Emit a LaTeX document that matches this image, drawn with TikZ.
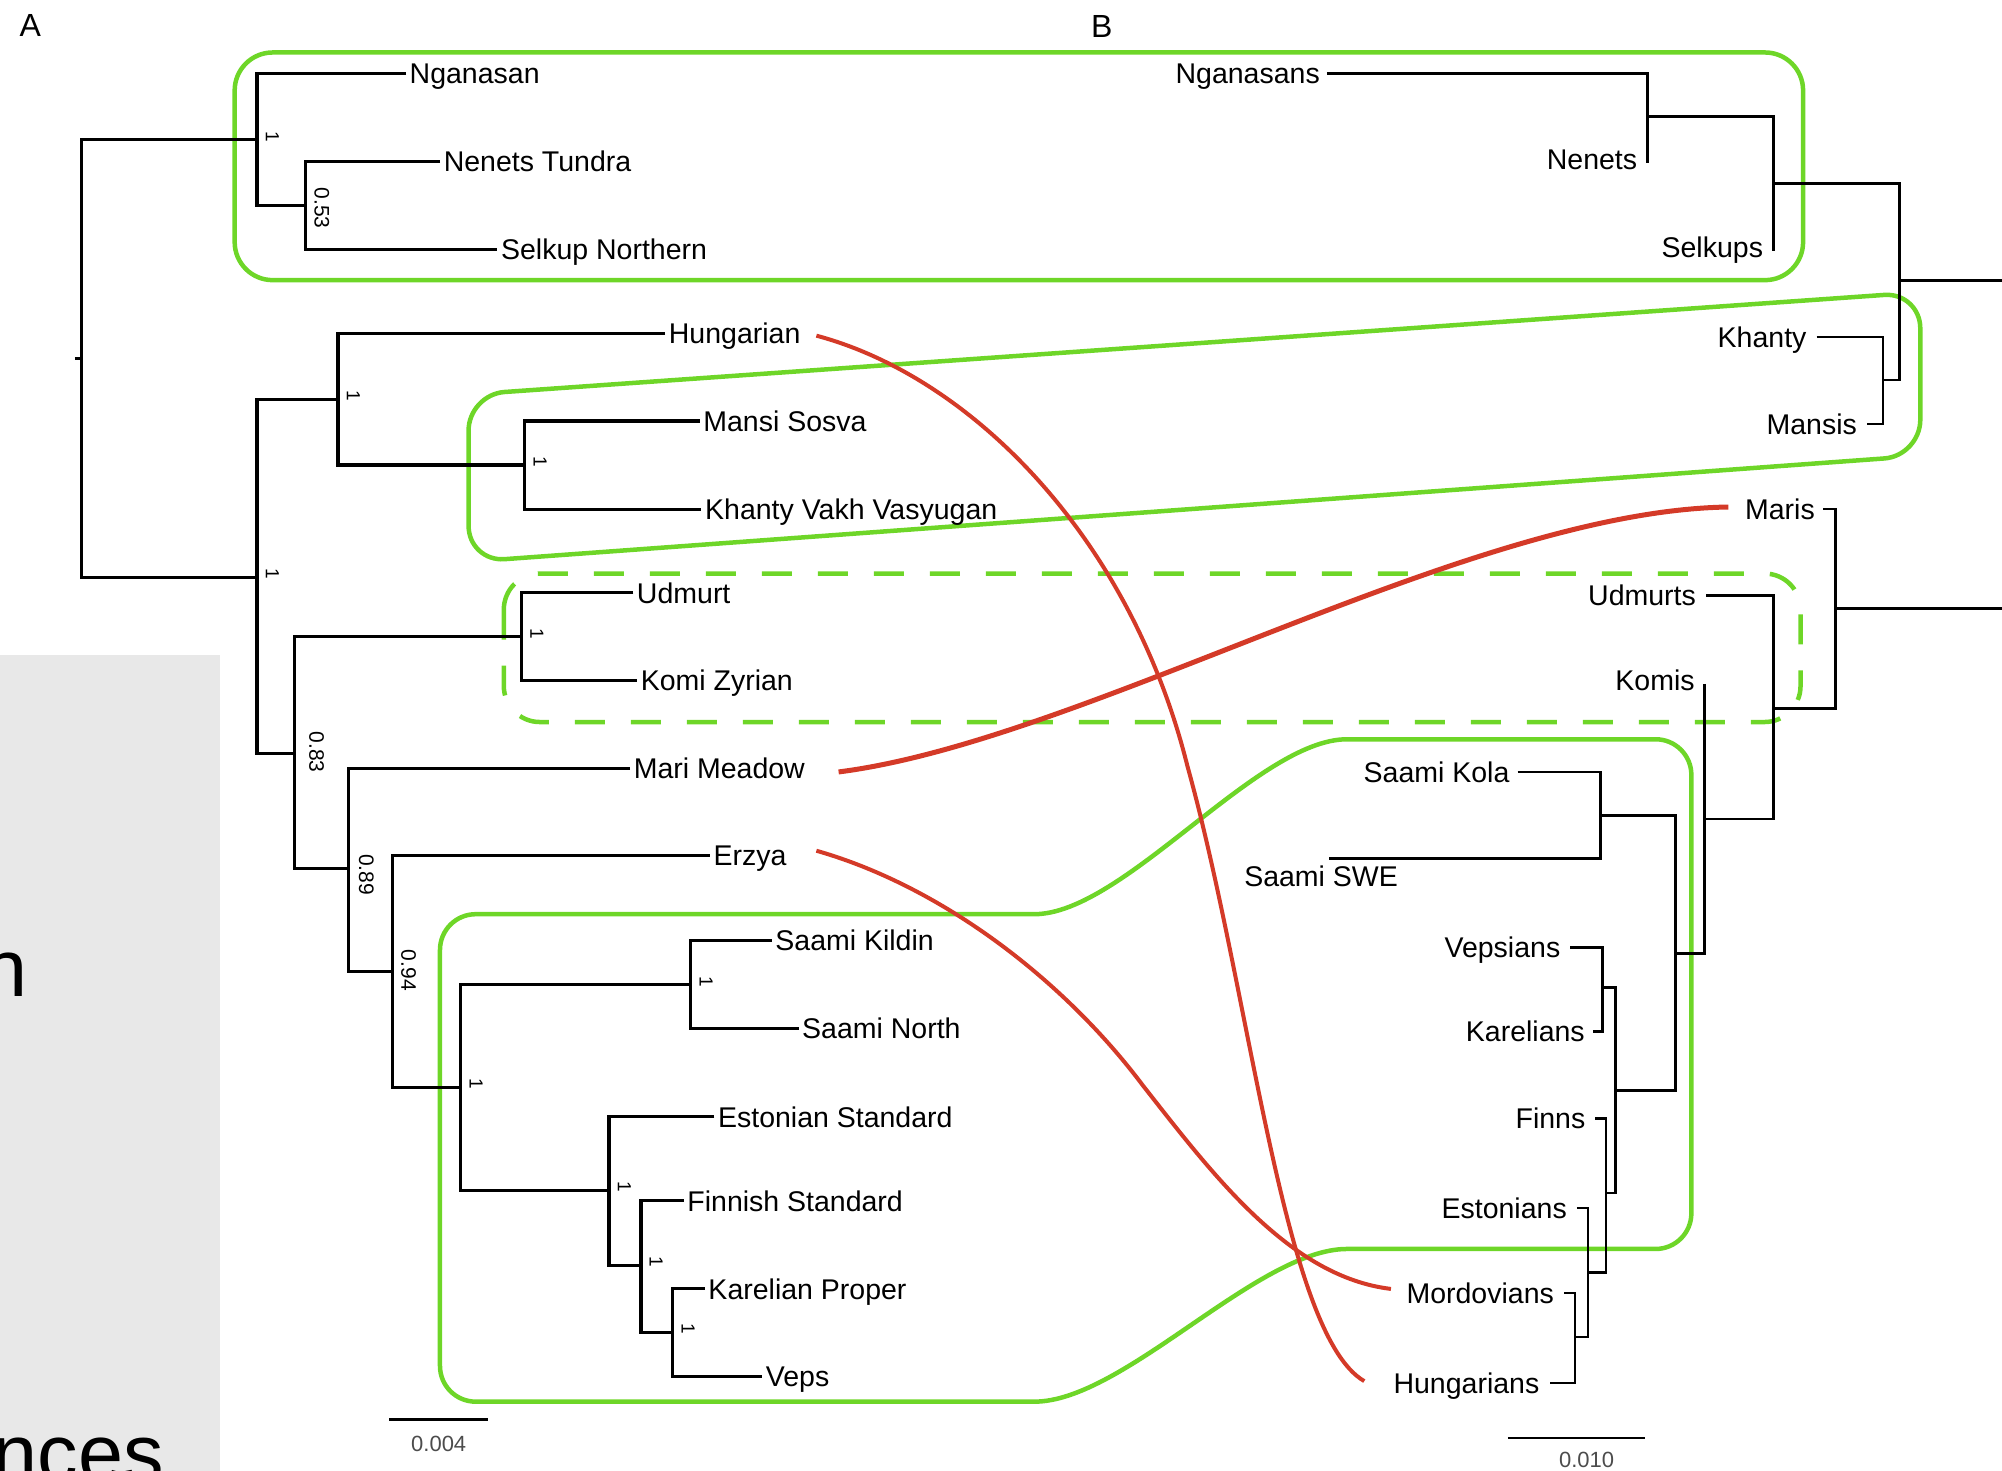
\documentclass[tikz,border=0pt]{standalone}
\usepackage{fontspec}
\setmainfont{Liberation Sans}
\definecolor{grn}{RGB}{110,214,40}
\definecolor{rd}{RGB}{212,58,40}
\definecolor{bgg}{RGB}{232,232,232}
\begin{document}
\begin{tikzpicture}[x=1.2768pt,y=-1.2768pt,
  treeA/.style={line width=3.1pt},
  treeB/.style={line width=2.6pt},
  gbox/.style={draw=grn,line width=4.5pt},
  gdash/.style={gbox,dash pattern=on 30pt off 26pt},
  rcurve/.style={draw=rd,line width=4pt},
  lA/.style={anchor=base west,inner sep=0pt,xshift=3.5pt,yshift=-10.2pt,font=\fontsize{28.5}{30}\selectfont},
  lB/.style={anchor=base east,inner sep=0pt,xshift=-10pt,yshift=-10.2pt,font=\fontsize{28.5}{30}\selectfont},
  suppv/.style={rotate=-90,inner sep=0pt,font=\fontsize{21}{21}\selectfont},
  supone/.style={rotate=-90,inner sep=0pt,font=\fontsize{19}{19}\selectfont},
  scl/.style={inner sep=0pt,text=black!70,font=\fontsize{22}{22}\selectfont},
  ttl/.style={inner sep=0pt,font=\fontsize{32}{32}\selectfont},
  bgtxt/.style={anchor=base east,inner sep=0pt,font=\fontsize{81}{81}\selectfont}]
\useasboundingbox (0,0) rectangle (1568,1152);
% background panel
\fill[bgg] (0,512.7) rectangle (172.3,1152);
\node[bgtxt] (bgn) at (21.5,780.5) {n};
\node[bgtxt] (bgnces) at (128.4,1160) {nces};
% titles
\node[ttl] (tA) at (23.7,20) {A};
\node[ttl] (tB) at (863,20.5) {B};
% green boxes
\draw[gbox,rounded corners=38pt] (183.8,41.1) rectangle (1412.2,219.4);
\draw[gbox,rounded corners=36pt] (367,375) -- (367,309) -- (1504,229) -- (1504,357) -- (367,440) -- cycle;
\draw[gdash,rounded corners=36pt] (394.6,449.2) rectangle (1410.2,565.5);
\draw[gbox] (344.6,900) -- (344.6,744) .. controls (344.6,728.5) and (357.1,716) .. (372.6,716)
  -- (810,716) .. controls (880,716) and (985,579) .. (1055,579)
  -- (1296.7,579) .. controls (1312.2,579) and (1324.7,591.5) .. (1324.7,607)
  -- (1324.7,950.2) .. controls (1324.7,965.7) and (1312.2,978.2) .. (1296.7,978.2)
  -- (1055,978.2) .. controls (985,978.2) and (880,1097.8) .. (810,1097.8)
  -- (372.6,1097.8) .. controls (357.1,1097.8) and (344.6,1085.3) .. (344.6,1069.8) -- cycle;
% ---------------- Tree A ----------------
\coordinate (stubA) at (58.7,280.9);
\coordinate (RA) at (63.5,280.9);
\coordinate (Sam) at (201.3,109.4);
\coordinate (NS) at (239,160.6);
\coordinate (Rest) at (201.3,452);
\coordinate (Ug) at (264.7,312.6);
\coordinate (MK) at (411,364.2);
\coordinate (Big) at (230.8,590.4);
\coordinate (Perm) at (408.6,498.8);
\coordinate (R2) at (273.2,680.5);
\coordinate (R3) at (307.7,761);
\coordinate (FS) at (361,851.6);
\coordinate (Sa) at (541,771.2);
\coordinate (Fi) at (477,932.2);
\coordinate (F2) at (502,991);
\coordinate (F3) at (527,1043.5);
\coordinate (tNg) at (318,57.6);
\coordinate (tNT) at (344.7,126.5);
\coordinate (tSN) at (389.6,195.4);
\coordinate (tHg) at (521,261.4);
\coordinate (tMS) at (548,329.7);
\coordinate (tKV) at (549.4,398.7);
\coordinate (tUdm) at (496,464.4);
\coordinate (tKZ) at (499,532.9);
\coordinate (tMM) at (493.5,601.9);
\coordinate (tEr) at (556,670);
\coordinate (tSKi) at (604.4,736.7);
\coordinate (tSNo) at (625.4,805.7);
\coordinate (tES) at (559.5,874.7);
\coordinate (tFS) at (535.5,940.5);
\coordinate (tKP) at (552,1009.5);
\coordinate (tVp) at (597,1078);
\draw[treeA] (stubA) -- (RA);
\draw[treeA] (Sam) -| (RA) |- (Rest);
\draw[treeA] (tNg) -| (Sam) |- (NS);
\draw[treeA] (tNT) -| (NS) |- (tSN);
\draw[treeA] (Ug) -| (Rest) |- (Big);
\draw[treeA] (tHg) -| (Ug) |- (MK);
\draw[treeA] (tMS) -| (MK) |- (tKV);
\draw[treeA] (Perm) -| (Big) |- (R2);
\draw[treeA] (tUdm) -| (Perm) |- (tKZ);
\draw[treeA] (tMM) -| (R2) |- (R3);
\draw[treeA] (tEr) -| (R3) |- (FS);
\draw[treeA] (Sa) -| (FS) |- (Fi);
\draw[treeA] (tSKi) -| (Sa) |- (tSNo);
\draw[treeA] (tES) -| (Fi) |- (F2);
\draw[treeA] (tFS) -| (F2) |- (F3);
\draw[treeA] (tKP) -| (F3) |- (tVp);
\node[lA] (LNg) at (tNg) {Nganasan};
\node[lA] (LNT) at (tNT) {Nenets Tundra};
\node[lA] (LSN) at (tSN) {Selkup Northern};
\node[lA] (LHg) at (tHg) {Hungarian};
\node[lA] (LMS) at (tMS) {Mansi Sosva};
\node[lA] (LKV) at (tKV) {Khanty Vakh Vasyugan};
\node[lA] (LUdm) at (tUdm) {Udmurt};
\node[lA] (LKZ) at (tKZ) {Komi Zyrian};
\node[lA] (LMM) at (tMM) {Mari Meadow};
\node[lA] (LEr) at (tEr) {Erzya};
\node[lA] (LSKi) at (tSKi) {Saami Kildin};
\node[lA] (LSNo) at (tSNo) {Saami North};
\node[lA] (LES) at (tES) {Estonian Standard};
\node[lA] (LFS) at (tFS) {Finnish Standard};
\node[lA] (LKP) at (tKP) {Karelian Proper};
\node[lA] (LVp) at (tVp) {Veps};
% support values
\node[suppv] (s053) at (252,163) {0.53};
\node[suppv] (s083) at (248,589) {0.83};
\node[suppv] (s089) at (287,685) {0.89};
\node[suppv] (s094) at (320,760) {0.94};
\node[supone] (o1) at (213.3,106.9) {1};
\node[supone] (o2) at (213.3,449.5) {1};
\node[supone] (o3) at (276.7,310.1) {1};
\node[supone] (o4) at (423,361.7) {1};
\node[supone] (o5) at (420.6,496.3) {1};
\node[supone] (o6) at (373,849.1) {1};
\node[supone] (o7) at (553,768.7) {1};
\node[supone] (o8) at (489,929.7) {1};
\node[supone] (o9) at (514,988.5) {1};
\node[supone] (o10) at (539,1041) {1};
% scale A
\coordinate (scA1) at (304.7,1111.6);
\coordinate (scA2) at (382,1111.6);
\draw[line width=2.5pt] (scA1) -- (scA2);
\node[scl] (scAl) at (343.6,1131) {0.004};
% ---------------- Tree B ----------------
\coordinate (B1) at (1290.2,91.4);
\coordinate (B2) at (1388.8,143.9);
\coordinate (B3) at (1487.9,219.7);
\coordinate (eB1) at (1568,219.7);
\coordinate (BU) at (1474.8,297.6);
\coordinate (BM) at (1437.8,476.7);
\coordinate (eB2) at (1568,476.7);
\coordinate (BP) at (1388.8,555);
\coordinate (BK) at (1335.2,641.5);
\coordinate (BFS) at (1312.2,746.8);
\coordinate (BS) at (1253.6,638.7);
\coordinate (BF) at (1265.1,854);
\coordinate (BVK) at (1255.2,773.5);
\coordinate (BE) at (1257.7,934.5);
\coordinate (BEs) at (1243.7,996.6);
\coordinate (BMH) at (1233.6,1047.2);
\coordinate (uNg) at (1039.3,57.6);
\coordinate (uNe) at (1290.2,127.4);
\coordinate (uSe) at (1388.8,196.3);
\coordinate (uKh) at (1422.8,263.8);
\coordinate (uMa) at (1462.3,332);
\coordinate (uMr) at (1427.8,398.7);
\coordinate (uUd) at (1336.2,466.6);
\coordinate (uKo) at (1335.2,535.6);
\coordinate (uSK) at (1188.6,604.6);
\coordinate (uSW) at (1040.9,672.3);
\coordinate (uVe) at (1230,742.2);
\coordinate (uKa) at (1247.6,808);
\coordinate (uFi) at (1249.6,876.1);
\coordinate (uEs) at (1235.1,946);
\coordinate (uMo) at (1225,1012.7);
\coordinate (uHu) at (1213.6,1083.1);
\draw[treeB] (uNg) -| (B1) |- (uNe);
\draw[treeB] (B1) -| (B2) |- (uSe);
\draw[treeB] (B2) -| (B3) |- (BU);
\draw[treeB] (B3) -- (eB1);
\draw[treeB] (uKh) -| (BU) |- (uMa);
\draw[treeB] (uMr) -| (BM) |- (BP);
\draw[treeB] (BM) -- (eB2);
\draw[treeB] (uUd) -| (BP) |- (BK);
\draw[treeB] (uKo) -| (BK) |- (BFS);
\draw[treeB] (BS) -| (BFS) |- (BF);
\draw[treeB] (uSK) -| (BS) |- (uSW);
\draw[treeB] (BVK) -| (BF) |- (BE);
\draw[treeB] (uVe) -| (BVK) |- (uKa);
\draw[treeB] (uFi) -| (BE) |- (BEs);
\draw[treeB] (uEs) -| (BEs) |- (BMH);
\draw[treeB] (uMo) -| (BMH) |- (uHu);
\node[lB,xshift=3pt] (MNg) at (uNg) {Nganasans};
\node[lB,yshift=3.5pt] (MNe) at (uNe) {Nenets};
\node[lB,yshift=3.5pt] (MSe) at (uSe) {Selkups};
\node[lB] (MKh) at (uKh) {Khanty};
\node[lB] (MMa) at (uMa) {Mansis};
\node[lB,xshift=2pt] (MMr) at (uMr) {Maris};
\node[lB] (MUd) at (uUd) {Udmurts};
\node[lB,yshift=3.5pt] (MKo) at (uKo) {Komis};
\node[lB,xshift=2pt] (MSK) at (uSK) {Saami Kola};
\node[anchor=base east,inner sep=0pt,yshift=-10.2pt,font=\fontsize{28.5}{30}\selectfont] (MSW) at (1095,686.6) {Saami SWE};
\node[lB] (MVe) at (uVe) {Vepsians};
\node[lB,xshift=2pt] (MKa) at (uKa) {Karelians};
\node[lB] (MFi) at (uFi) {Finns};
\node[lB] (MEs) at (uEs) {Estonians};
\node[lB] (MMo) at (uMo) {Mordovians};
\node[lB] (MHu) at (uHu) {Hungarians};
% scale B
\coordinate (scB1) at (1181,1126.3);
\coordinate (scB2) at (1288.7,1126.3);
\draw[line width=2.5pt] (scB1) -- (scB2);
\node[scl] (scBl) at (1242.6,1143.8) {0.010};
% ---------------- red links ----------------
\coordinate (hA) at (639.4,262.9);
\coordinate (hM) at (930,600);
\coordinate (hB) at (1068.5,1081.7);
\draw[rcurve] (hA) .. controls (760,295) and (885,420) .. (hM) .. controls (980,780) and (1005,1045) .. (hB);
\coordinate (mA) at (656.8,604.6);
\coordinate (mB) at (1353.7,397.1);
\draw[rcurve,line width=5pt] (mA) .. controls (850,580) and (1150,400) .. (mB);
\coordinate (eA) at (639.4,666.3);
\coordinate (eM) at (895,850);
\coordinate (eB) at (1089.4,1009.5);
\draw[rcurve] (eA) .. controls (740,695) and (835,770) .. (eM) .. controls (950,920) and (1010,1000) .. (eB);
\end{tikzpicture}
\end{document}
